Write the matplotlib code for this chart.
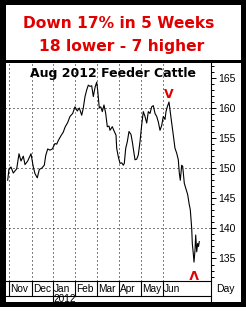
import matplotlib
matplotlib.use("Agg")
import matplotlib.pyplot as plt
from matplotlib.patches import Rectangle
from matplotlib.lines import Line2D
from matplotlib.ticker import MultipleLocator

W, H = 246, 311

# trading-day position and settle price, Aug 2012 feeder cattle
day = [0.7, 2, 4, 6.3, 9.7, 12, 14, 16.3, 18, 20.7, 24, 26.3, 28, 30.3, 32.3,
       34.7, 37.3, 38.7, 40.7, 43, 45.3, 48, 49.7, 51.3, 54, 56.3, 58, 60.7,
       63, 65.7, 68, 70.3, 72.3, 74.7, 76.3, 78, 79.7, 81.3, 83, 84.7, 86.3,
       88, 89.7, 90.7, 92.3, 93.7, 95.3, 97, 98.7, 100.3, 102, 103, 105.3,
       107.3, 109, 109.7, 111.3, 113, 114.7, 116.3, 117.3, 118.7, 120.3, 122,
       124, 125.3, 127, 128, 129.7, 131.3, 133, 134.7, 136.3, 138, 139.7,
       141.3, 143, 144.7, 146.3, 148, 149.7, 151.3, 153, 154.7, 156.3, 158,
       159, 160.3, 162, 163, 164.7, 166.3, 168, 169.7, 171.3, 172.3, 173.3,
       174.7, 175.7, 177.3, 178.7, 180.7, 182, 183.3, 184.7, 185.3, 186.3,
       187, 188, 188.7, 189.7, 190.7, 191.5, 192.3]
close = [148.0, 149.9, 150.2, 149.2, 149.9, 152.4, 151.2, 152.0, 150.6, 151.2,
         152.4, 150.2, 149.1, 148.4, 149.8, 150.0, 150.5, 152.1, 153.2, 153.0,
         153.2, 154.1, 154.0, 154.6, 155.4, 156.0, 156.8, 157.6, 158.6, 159.1,
         160.2, 159.5, 160.0, 158.8, 160.0, 161.9, 163.0, 163.8, 163.6, 163.7,
         161.9, 163.4, 164.3, 162.9, 160.0, 160.2, 159.4, 160.5, 159.1, 156.9,
         157.0, 156.3, 156.9, 156.1, 155.5, 153.3, 151.9, 150.8, 150.9, 150.5,
         150.8, 153.3, 154.4, 156.1, 155.6, 154.4, 152.5, 151.4, 151.5, 152.2,
         154.4, 157.2, 159.4, 158.6, 157.5, 159.4, 159.1, 160.2, 160.4, 159.1,
         158.6, 157.7, 156.3, 157.1, 158.6, 158.1, 159.4, 160.2, 161.0, 159.7,
         157.5, 155.5, 153.3, 152.5, 151.4, 149.2, 148.0, 150.5, 150.3, 147.5,
         146.7, 145.6, 144.2, 143.1, 140.0, 137.5, 135.8, 134.4, 136.4, 138.9,
         136.1, 137.5, 137.0, 137.8]

month_start = [2, 25, 46, 68, 90, 112, 134, 156]
month_names = ["Nov", "Dec", "Jan", "Feb", "Mar", "Apr", "May", "Jun"]
year_label = "2012"
price_ticks = [135, 140, 145, 150, 155, 160, 165]
grid_prices = [140, 150, 160]


def fx(x):
    return x / W


def fy(y):
    return 1 - y / H


fig = plt.figure(figsize=(W / 100, H / 100), dpi=100)
fig.patch.set_facecolor("white")

ax = fig.add_axes([fx(5), fy(281), fx(211) - fx(5), fy(63) - fy(281)])
ax.set_xlim(-2, 204)
ax.set_ylim(131.26, 167.48)

for m in month_start:
    ax.axvline(m, color="black", lw=0.72, ls=(0, (1, 3)))
for g in grid_prices:
    ax.axhline(g, color="black", lw=0.72, ls=(0, (1, 3)))

ax.plot(day, close, color="black", lw=0.8)

# red reversal markers
late = [i for i in range(len(day)) if day[i] > 140]
pk = max(late, key=lambda i: close[i])
lo = min(range(len(close)), key=lambda i: close[i])
ax.text(day[pk], close[pk] + 1.3, "V", color="#e00000", fontsize=9,
        fontweight="bold", ha="center", va="center", family="DejaVu Sans")
ax.text(day[lo], close[lo] - 1.7, "V", color="#e00000", fontsize=9,
        fontweight="bold", ha="center", va="center", rotation=180,
        family="DejaVu Sans")

ax.yaxis.tick_right()
ax.set_yticks(price_ticks)
ax.yaxis.set_minor_locator(MultipleLocator(1))
ax.set_xticks([])
ax.tick_params(axis="y", which="major", direction="out", length=3.5,
               width=0.7, labelsize=7.5, pad=1.5, colors="black")
ax.tick_params(axis="y", which="minor", direction="out", length=2.2, width=0.7)
for lab in ax.get_yticklabels():
    lab.set_family("Liberation Sans")
for s in ["left", "top", "right"]:
    ax.spines[s].set_visible(False)
ax.spines["bottom"].set_linewidth(0.8)

ax.text(0.525, (281 - 74) / 218, "Aug 2012 Feeder Cattle", transform=ax.transAxes,
        ha="center", va="center", fontsize=9, fontweight="bold",
        family="DejaVu Sans")

# month / year rows under the plot
xt = ax.get_xaxis_transform()


def ay(y):
    return (281 - y) / 218


for m, name in zip(month_start, month_names):
    ax.add_line(Line2D([m, m], [0, ay(295.5)], transform=xt, color="black",
                       lw=0.8, clip_on=False))
    ax.text(m + 0.8, ay(288.5), name, transform=xt, ha="left", va="center",
            fontsize=7.3, family="Liberation Sans", clip_on=False)
jan = month_start[month_names.index("Jan")]
ax.add_line(Line2D([jan, jan], [ay(295.5), ay(303)], transform=xt,
                   color="black", lw=0.8, clip_on=False))
ax.text(jan + 0.8, ay(299.5), year_label, transform=xt, ha="left",
        va="center", fontsize=7.3, family="Liberation Sans", clip_on=False)

fig.add_artist(Line2D([fx(5), fx(211)], [fy(295.5), fy(295.5)],
                      color="black", lw=0.8))
fig.add_artist(Line2D([fx(211), fx(211)], [fy(63), fy(303)],
                      color="black", lw=0.8))
fig.text(fx(225), fy(289.5), "Day", ha="center", va="center", fontsize=7.5,
         family="Liberation Sans")

# title box
fig.text(fx(119), fy(24), "Down 17% in 5 Weeks", color="#e00000",
         ha="center", va="center", fontsize=11.2, fontweight="bold",
         family="DejaVu Sans")
fig.text(fx(122), fy(47), "18 lower - 7 higher", color="#e00000",
         ha="center", va="center", fontsize=11.2, fontweight="bold",
         family="DejaVu Sans")

# black frame
for x0, y0, x1, y1 in [(0, 0, 246, 4.5), (0, 0, 5.5, 307), (241, 0, 246, 307),
                       (0, 302, 246, 307), (0, 59.5, 246, 63)]:
    fig.add_artist(Rectangle((fx(x0), fy(y1)), fx(x1) - fx(x0), fy(y0) - fy(y1),
                             transform=fig.transFigure, color="black", lw=0))

fig.savefig("out.png", dpi=100)
